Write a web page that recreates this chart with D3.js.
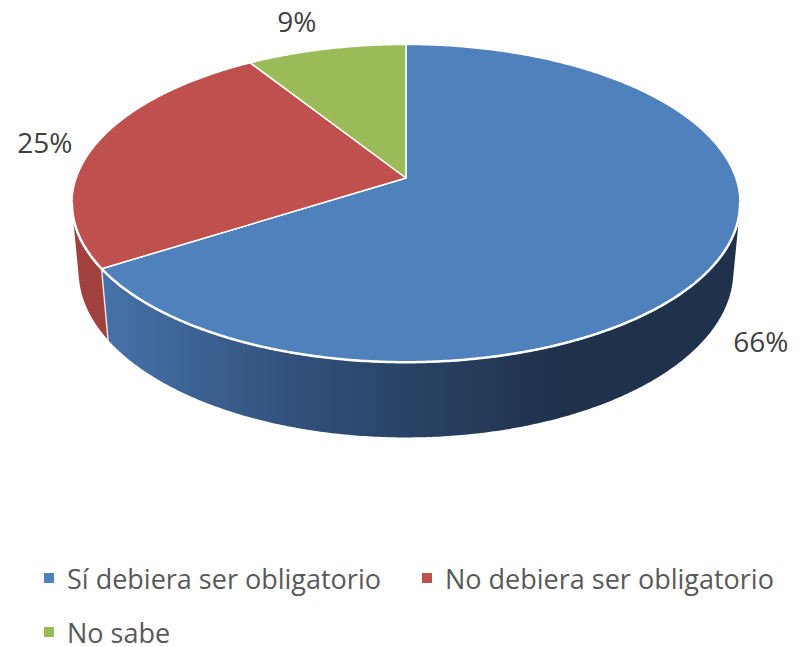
<!DOCTYPE html>
<html lang="es">
<head>
<meta charset="utf-8">
<title>Pie 3D</title>
<script src="https://d3js.org/d3.v7.min.js"></script>
<style>
  html, body { margin: 0; padding: 0; background: #fff; }
  svg { display: block; }
  .lbl { font-family: "Open Sans", "Noto Sans", sans-serif; font-size: 28px; fill: #404040; }
  .leg { font-family: "Open Sans", "Noto Sans", sans-serif; font-size: 27px; fill: #595959; }
</style>
</head>
<body>
<svg id="chart" width="803" height="647"></svg>
<script>
// data
const categories = ['Sí debiera ser obligatorio', 'No debiera ser obligatorio', 'No sabe'];
const values = [66, 25, 9];

// styles
const topColors = ['#4f81bd', '#c0504d', '#9bbb59'];
const sideColors = ['#3f6a9c', '#a0413e', '#7e9a45'];

const W = 803, H = 647;
const svg = d3.select('#chart');

// camera / projection setup (fake Excel 3D pie with perspective)
const cx = 406, cy = 178;
const phi = 28 * Math.PI / 180;
const sphi = Math.sin(phi), cphi = Math.cos(phi);
const D = 5.54;       // camera distance in radius units
const f = 1827;       // focal scale
const h = 0.235;      // cylinder thickness in radius units

// a: angle clockwise from 12 o'clock, r: radius factor, y: height (0 top, -h bottom)
function proj(a, r, y) {
  const x = r * Math.sin(a), z = r * Math.cos(a);
  const depth = D - y * sphi + z * cphi;
  return [cx + f * x / depth, cy - f * (y * cphi + z * sphi) / depth];
}

const pie = d3.pie().sort(null).value(d => d)(values);

// visible part of the outer wall: cos(a) < -1/(D cos phi)
const lim = Math.acos(-1 / (D * cphi));
const frontStart = lim, frontEnd = 2 * Math.PI - lim;

function arcPts(a0, a1, r, y) {
  const n = Math.max(2, Math.ceil(Math.abs(a1 - a0) / (Math.PI / 360)));
  return d3.range(n + 1).map(i => proj(a0 + (a1 - a0) * i / n, r, y));
}

const line = d3.line();

const defs = svg.append('defs');
const grad = defs.append('linearGradient')
  .attr('id', 'blueSide')
  .attr('gradientUnits', 'userSpaceOnUse')
  .attr('x1', 100).attr('y1', 0).attr('x2', 560).attr('y2', 0);
grad.append('stop').attr('offset', 0).attr('stop-color', '#4672a9');
grad.append('stop').attr('offset', 0.45).attr('stop-color', '#304f78');
grad.append('stop').attr('offset', 1).attr('stop-color', '#1f314b');

// side walls
const sides = svg.append('g');
pie.forEach((p, i) => {
  const a0 = Math.max(p.startAngle, frontStart);
  const a1 = Math.min(p.endAngle, frontEnd);
  if (a1 <= a0) return;
  const pts = arcPts(a0, a1, 1, 0).concat(arcPts(a1, a0, 1, -h));
  sides.append('path')
    .attr('d', line(pts) + 'Z')
    .attr('fill', i === 0 ? 'url(#blueSide)' : sideColors[i])
    .attr('stroke', 'none');
  // light edge where slices meet on the wall
  if (p.startAngle > frontStart && p.startAngle < frontEnd) {
    sides.append('path')
      .attr('d', line([proj(p.startAngle, 1, 0), proj(p.startAngle, 1, -h)]))
      .attr('stroke', '#fff').attr('stroke-width', 1.5).attr('stroke-opacity', 0.8);
  }
});

// top faces
const tops = svg.append('g');
pie.forEach((p, i) => {
  const pts = [proj(0, 0, 0)].concat(arcPts(p.startAngle, p.endAngle, 1, 0));
  tops.append('path')
    .attr('d', line(pts) + 'Z')
    .attr('fill', topColors[i])
    .attr('stroke', '#fff')
    .attr('stroke-width', 1.5)
    .attr('stroke-linejoin', 'round');
});
// white rim along the front edge of the top face
svg.append('path')
  .attr('d', line(arcPts(frontStart - 0.05, frontEnd + 0.05, 1, 0)))
  .attr('fill', 'none')
  .attr('stroke', '#fff')
  .attr('stroke-width', 2.5);

// data labels
const labelNudge = [[-23, 36], [10, -33], [-22, -45]];
pie.forEach((p, i) => {
  const mid = (p.startAngle + p.endAngle) / 2;
  const [lx, ly] = proj(mid, 1.12, -h / 2);
  const anchor = Math.sin(mid) > 0.3 ? 'start' : (Math.sin(mid) < -0.3 ? 'end' : 'middle');
  svg.append('text')
    .attr('class', 'lbl')
    .attr('x', lx + labelNudge[i][0])
    .attr('y', ly + labelNudge[i][1])
    .attr('text-anchor', anchor)
    .attr('dominant-baseline', 'central')
    .text(d3.format('.0%')(p.value / d3.sum(values)));
});

// legend
const legendPos = [[44, 578], [422, 578], [44, 632]];
const legend = svg.append('g');
categories.forEach((c, i) => {
  const g = legend.append('g').attr('transform', `translate(${legendPos[i][0]},${legendPos[i][1]})`);
  g.append('rect').attr('x', 0).attr('y', -5).attr('width', 10).attr('height', 10).attr('fill', topColors[i]);
  g.append('text').attr('class', 'leg').attr('x', 23).attr('y', 0)
    .attr('dominant-baseline', 'central').text(c);
});
</script>
</body>
</html>
